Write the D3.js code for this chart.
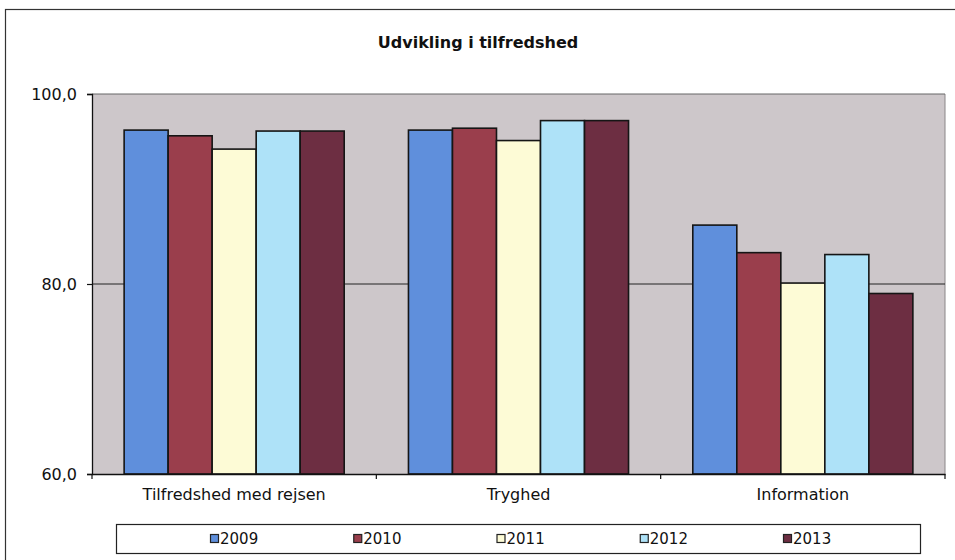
<!DOCTYPE html>
<html>
<head>
<meta charset="utf-8">
<script src="https://cdn.jsdelivr.net/npm/d3@7/dist/d3.min.js"></script>
<style>
  html, body { margin: 0; padding: 0; background: #ffffff; }
  svg { display: block; }
  text { font-family: Verdana, "DejaVu Sans", sans-serif; fill: #111; }
</style>
</head>
<body>
<svg id="chart" width="955" height="560"></svg>
<script>
// Satisfaction survey results per theme, one series per year
const categories = ["Tilfredshed med rejsen", "Tryghed", "Information"];
const years = ["2009", "2010", "2011", "2012", "2013"];
const values2009 = [96.2, 96.2, 86.2];
const values2010 = [95.6, 96.4, 83.3];
const values2011 = [94.2, 95.1, 80.1];
const values2012 = [96.1, 97.2, 83.1];
const values2013 = [96.1, 97.2, 79.0];
const yTicks = [60, 80, 100];
const titleText = "Udvikling i tilfredshed";

const seriesValues = [values2009, values2010, values2011, values2012, values2013];
const colors = ["#5f8fdc", "#9a3e4c", "#fdfbd6", "#aee2f8", "#6d2e42"];

const svg = d3.select("#chart");
const plot = { left: 92, right: 945, top: 94, bottom: 474 };

// outer frame of the chart
svg.append("rect")
  .attr("x", 5.5).attr("y", 9.5)
  .attr("width", 960).attr("height", 560)
  .attr("fill", "#fff").attr("stroke", "#333").attr("stroke-width", 1.2);

// title
svg.append("text")
  .attr("x", 478).attr("y", 48)
  .attr("text-anchor", "middle")
  .attr("font-weight", "bold")
  .attr("font-size", 16)
  .text(titleText);

const x = d3.scaleBand().domain(categories).range([plot.left, plot.right]).padding(0);
const xi = d3.scaleBand().domain(years).range([0, x.bandwidth()])
  .paddingInner(0).paddingOuter(0.73);
const y = d3.scaleLinear().domain([60, 100]).range([plot.bottom, plot.top]);

// plot area background
svg.append("rect")
  .attr("x", plot.left).attr("y", plot.top)
  .attr("width", plot.right - plot.left).attr("height", plot.bottom - plot.top)
  .attr("fill", "#cdc7ca");

// right edge of plot area
svg.append("line")
  .attr("x1", plot.right).attr("x2", plot.right)
  .attr("y1", plot.top).attr("y2", plot.bottom)
  .attr("stroke", "#8a8688").attr("stroke-width", 1);

// horizontal gridlines
svg.append("g")
  .selectAll("line")
  .data(yTicks.filter(t => t > 60))
  .join("line")
  .attr("x1", plot.left).attr("x2", plot.right)
  .attr("y1", d => y(d)).attr("y2", d => y(d))
  .attr("stroke", d => d === 100 ? "#666" : "#222")
  .attr("stroke-width", 1);

// bars
const rows = [];
categories.forEach((c, ci) => {
  years.forEach((yr, si) => {
    rows.push({ cat: c, year: yr, value: seriesValues[si][ci], color: colors[si] });
  });
});

svg.append("g")
  .selectAll("rect")
  .data(rows)
  .join("rect")
  .attr("x", d => x(d.cat) + xi(d.year))
  .attr("y", d => y(d.value))
  .attr("width", xi.bandwidth())
  .attr("height", d => y(60) - y(d.value))
  .attr("fill", d => d.color)
  .attr("stroke", "#151515")
  .attr("stroke-width", 1.6);

// y axis
const fmt = v => d3.format(".1f")(v).replace(".", ",");
const yAxis = svg.append("g")
  .attr("transform", `translate(${plot.left},0)`)
  .call(d3.axisLeft(y).tickValues(yTicks).tickSize(5).tickPadding(10).tickFormat(fmt));
yAxis.select(".domain").attr("stroke", "#111").attr("stroke-width", 1.3);
yAxis.selectAll(".tick line").attr("stroke", "#111").attr("stroke-width", 1.2);
yAxis.selectAll(".tick text")
  .attr("font-size", 16)
  .attr("font-family", "Verdana, 'DejaVu Sans', sans-serif")
  .attr("fill", "#111");

// x axis with ticks between the categories
const xAxis = svg.append("g")
  .attr("transform", `translate(0,${plot.bottom})`)
  .call(d3.axisBottom(x).tickSize(0).tickPadding(15));
xAxis.select(".domain").attr("stroke", "#111").attr("stroke-width", 1.3);
xAxis.selectAll(".tick text")
  .attr("font-size", 16)
  .attr("font-family", "Verdana, 'DejaVu Sans', sans-serif")
  .attr("fill", "#111");
const boundaries = categories.map(c => x(c)).concat([x(categories[categories.length - 1]) + x.bandwidth()]);
svg.append("g")
  .selectAll("line")
  .data(boundaries)
  .join("line")
  .attr("x1", d => d).attr("x2", d => d)
  .attr("y1", plot.bottom).attr("y2", plot.bottom + 5)
  .attr("stroke", "#111").attr("stroke-width", 1.2);

// legend
const legend = { left: 116, right: 920, top: 524, bottom: 553 };
svg.append("rect")
  .attr("x", legend.left + 0.5).attr("y", legend.top + 0.5)
  .attr("width", legend.right - legend.left).attr("height", legend.bottom - legend.top)
  .attr("fill", "#fff").attr("stroke", "#222").attr("stroke-width", 1.2);

const lx = d3.scalePoint().domain(years).range([210, 783]);
const li = svg.append("g")
  .selectAll("g")
  .data(years)
  .join("g")
  .attr("transform", d => `translate(${lx(d)},${(legend.top + legend.bottom) / 2})`);
li.append("rect")
  .attr("x", 0.5).attr("y", -4)
  .attr("width", 8).attr("height", 8)
  .attr("fill", (d, i) => colors[i])
  .attr("stroke", "#222").attr("stroke-width", 1.2);
li.append("text")
  .attr("x", 10).attr("y", 5.5)
  .attr("font-size", 15)
  .text(d => d);
</script>
</body>
</html>
